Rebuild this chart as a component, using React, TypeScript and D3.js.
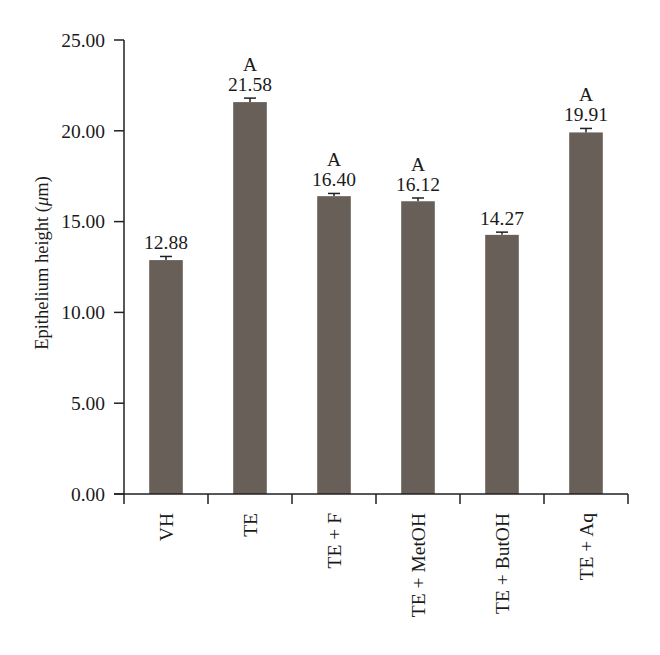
import React from "react";
import * as d3 from "d3";

const categories = ["VH", "TE", "TE + F", "TE + MetOH", "TE + ButOH", "TE + Aq"];
const values = [12.88, 21.58, 16.4, 16.12, 14.27, 19.91];
const errors = [0.2, 0.22, 0.15, 0.18, 0.15, 0.22];
const valueLabels = ["12.88", "21.58", "16.40", "16.12", "14.27", "19.91"];
const sigLabels = ["", "A", "A", "A", "", "A"];
const yTicks = [0, 5, 10, 15, 20, 25];

const W = 660;
const H = 655;
const FONT = "'Liberation Serif', 'DejaVu Serif', serif";
const AXIS = "#231f20";
const BAR = "#675f58";
const FS = 19.5;

export default function App() {
  const x0 = 124, x1 = 628, y0 = 494, y1 = 40;
  const x = d3.scaleBand<string>().domain(categories).range([x0, x1]).paddingInner(0.6).paddingOuter(0.3);
  const xb = d3.scaleBand<string>().domain(categories).range([x0, x1]).padding(0);
  const y = d3.scaleLinear().domain([0, 25]).range([y0, y1]);
  const bw = x.bandwidth();
  const capW = 12;

  return (
    <svg width={W} height={H} style={{ position: "absolute", left: 0, top: 0 }} fontFamily={FONT}>
      <rect width={W} height={H} fill="#fff" />
      {categories.map((c, i) => {
        const cx = (x(c) as number) + bw / 2;
        const top = y(values[i]);
        const eTop = y(values[i] + errors[i]);
        return (
          <g key={c}>
            <line x1={cx} x2={cx} y1={top} y2={eTop} stroke={AXIS} strokeWidth={1.5} />
            <line x1={cx - capW / 2} x2={cx + capW / 2} y1={eTop} y2={eTop} stroke={AXIS} strokeWidth={1.5} />
            <rect x={x(c)} y={top} width={bw} height={y0 - top} fill={BAR} />
            <text x={cx} y={eTop - 7} textAnchor="middle" fontSize={FS} fill="#1a1a1a">
              {valueLabels[i]}
            </text>
            {sigLabels[i] && (
              <text x={cx} y={eTop - 27} textAnchor="middle" fontSize={FS} fill="#1a1a1a">
                {sigLabels[i]}
              </text>
            )}
          </g>
        );
      })}
      <line x1={x0} x2={x0} y1={y1} y2={y0} stroke={AXIS} strokeWidth={1.5} />
      {yTicks.map((t) => (
        <g key={t}>
          <line x1={x0 - 10} x2={x0} y1={y(t)} y2={y(t)} stroke={AXIS} strokeWidth={1.5} />
          <text x={x0 - 19} y={y(t)} dy="0.35em" textAnchor="end" fontSize={FS} fill="#1a1a1a">
            {t.toFixed(2)}
          </text>
        </g>
      ))}
      <line x1={x0 - 10} x2={x1} y1={y0} y2={y0} stroke={AXIS} strokeWidth={1.5} />
      {[...categories.map((c) => xb(c) as number), x1].map((p, i) => (
        <line key={i} x1={p} x2={p} y1={y0} y2={y0 + 10} stroke={AXIS} strokeWidth={1.5} />
      ))}
      {categories.map((c) => {
        const cx = (xb(c) as number) + xb.bandwidth() / 2;
        return (
          <text
            key={c}
            transform={`translate(${cx + 7},${y0 + 19}) rotate(-90)`}
            textAnchor="end"
            fontSize={FS}
            fill="#1a1a1a"
          >
            {c}
          </text>
        );
      })}
      <text
        transform={`translate(48,263) rotate(-90)`}
        textAnchor="middle"
        fontSize={18.5}
        fill="#1a1a1a"
      >
        Epithelium height (<tspan fontStyle="italic">μ</tspan>m)
      </text>
    </svg>
  );
}
